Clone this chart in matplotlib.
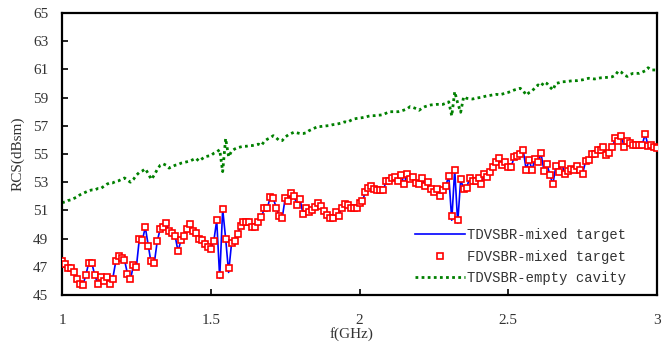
import matplotlib
matplotlib.use('Agg')
import matplotlib.pyplot as plt
import numpy as np

# frequency axis (GHz), 0.01 GHz step
freq = np.round(np.arange(1.0, 3.0001, 0.01), 2)

# FDVSBR - mixed target (red squares)
fd_mixed = [
    47.4, 47.2, 46.95, 46.9, 46.6, 46.1, 45.8, 45.7, 46.4, 47.3,
    47.3, 46.4, 45.8, 46.3, 46.0, 46.3, 45.8, 46.1, 47.4, 47.75,
    47.65, 47.5, 46.5, 46.1, 47.1, 47.0, 49.0, 48.9, 49.85, 48.5,
    47.4, 47.25, 48.8, 49.7, 49.85, 50.1, 49.55, 49.4, 49.2, 48.1,
    48.9, 49.2, 49.7, 50.05, 49.55, 49.4, 49.0, 48.9, 48.6, 48.4,
    48.25, 48.8, 50.3, 46.4, 51.1, 49.0, 46.9, 48.7, 48.8, 49.3,
    49.9, 50.15, 50.15, 50.2, 49.85, 49.8, 50.2, 50.5, 51.15, 51.15,
    51.95, 51.85, 51.2, 50.6, 50.45, 51.85, 51.65, 52.2, 52.0, 51.4,
    51.8, 50.75, 51.15, 50.9, 51.0, 51.25, 51.5, 51.3, 50.95, 50.7,
    50.45, 50.45, 50.9, 50.6, 51.2, 51.45, 51.35, 51.2, 51.2, 51.2,
    51.55, 51.7, 52.3, 52.6, 52.75, 52.5, 52.45, 52.45, 52.45, 53.1,
    53.1, 53.3, 53.4, 53.1, 53.5, 52.85, 53.6, 53.25, 53.35, 52.95,
    52.9, 53.3, 52.7, 53.0, 52.5, 52.3, 52.5, 52.0, 52.45, 52.75,
    53.45, 50.6, 53.9, 50.35, 53.2, 52.5, 52.6, 53.3, 53.1, 53.1,
    53.3, 52.85, 53.6, 53.4, 53.7, 54.1, 54.45, 54.75, 54.2, 54.4,
    54.1, 54.1, 54.8, 54.85, 55.0, 55.3, 53.9, 54.55, 53.9, 54.65,
    54.4, 55.05, 53.8, 54.3, 53.5, 52.85, 54.15, 53.7, 54.3, 53.6,
    53.8, 53.95, 53.9, 54.15, 53.9, 53.6, 54.5, 54.55, 55.0, 55.0,
    55.3, 55.3, 55.5, 54.9, 55.05, 55.5, 56.1, 55.95, 56.25, 55.5,
    55.95, 55.8, 55.65, 55.65, 55.65, 55.65, 56.4, 55.6, 55.65, 55.5,
    55.4,
]

# TDVSBR - mixed target (blue line)
td_mixed = [
    47.3, 47.2, 46.95, 46.85, 46.6, 46.1, 45.8, 45.7, 46.4, 47.3,
    47.3, 46.4, 45.8, 46.3, 46.0, 46.2, 45.7, 46.1, 47.3, 47.7,
    47.65, 47.5, 46.5, 46.1, 47.1, 47.0, 49.0, 48.9, 49.8, 48.5,
    47.2, 47.25, 48.8, 49.7, 49.85, 50.1, 49.55, 49.4, 49.2, 48.1,
    48.9, 49.2, 49.7, 50.05, 49.55, 49.4, 49.0, 48.9, 48.6, 48.4,
    48.25, 48.8, 50.3, 46.2, 51.1, 49.0, 46.6, 48.7, 48.8, 49.3,
    49.9, 50.15, 50.15, 50.2, 49.85, 49.8, 50.2, 50.5, 51.15, 51.15,
    51.95, 51.85, 51.2, 50.6, 50.45, 51.85, 51.65, 52.2, 52.0, 51.4,
    51.8, 50.75, 51.15, 50.9, 51.0, 51.25, 51.5, 51.3, 50.95, 50.7,
    50.45, 50.45, 50.9, 50.6, 51.2, 51.45, 51.35, 51.2, 51.2, 51.2,
    51.55, 51.7, 52.3, 52.6, 52.75, 52.5, 52.45, 52.45, 52.45, 53.1,
    53.1, 53.3, 53.4, 53.1, 53.5, 52.85, 53.6, 53.25, 53.35, 52.95,
    52.9, 53.3, 52.7, 53.0, 52.5, 52.3, 52.5, 52.0, 52.45, 52.75,
    53.45, 50.3, 53.9, 50.1, 53.2, 52.5, 52.6, 53.3, 53.1, 53.1,
    53.3, 52.85, 53.6, 53.4, 53.7, 54.1, 54.45, 54.75, 54.2, 54.4,
    54.1, 54.1, 54.8, 54.85, 55.0, 55.3, 53.9, 54.55, 53.9, 54.65,
    54.4, 55.05, 53.8, 54.3, 53.5, 52.85, 54.15, 53.7, 54.3, 53.6,
    53.8, 53.95, 53.9, 54.15, 53.9, 53.6, 54.5, 54.55, 55.0, 55.0,
    55.3, 55.3, 55.5, 54.9, 55.05, 55.5, 56.1, 55.95, 56.25, 55.5,
    55.95, 55.8, 55.65, 55.65, 55.65, 55.65, 56.4, 55.6, 55.65, 55.5,
    55.4,
]

# TDVSBR - empty cavity (green dotted)
td_empty = [
    51.55, 51.6, 51.7, 51.75, 51.85, 51.95, 52.1, 52.2, 52.3, 52.4,
    52.45, 52.45, 52.55, 52.55, 52.7, 52.85, 52.95, 52.95, 53.05, 53.1,
    53.2, 53.3, 53.15, 53.0, 53.2, 53.5, 53.7, 53.8, 53.95, 53.6,
    53.2, 53.5, 53.9, 54.2, 54.3, 54.2, 54.0, 54.1, 54.2, 54.25,
    54.35, 54.4, 54.45, 54.5, 54.6, 54.7, 54.5, 54.65, 54.8, 54.85,
    54.88, 55.05, 55.15, 55.3, 53.75, 56.1, 54.8, 55.2, 55.35, 55.45,
    55.5, 55.55, 55.55, 55.6, 55.6, 55.65, 55.7, 55.6, 55.9, 56.05,
    56.15, 56.3, 56.15, 55.95, 55.95, 56.2, 56.35, 56.45, 56.55, 56.5,
    56.45, 56.45, 56.5, 56.65, 56.75, 56.85, 56.95, 56.95, 56.98, 57.0,
    57.02, 57.08, 57.1, 57.15, 57.2, 57.28, 57.25, 57.38, 57.48, 57.52,
    57.55, 57.58, 57.62, 57.68, 57.72, 57.72, 57.75, 57.76, 57.8, 57.9,
    58.0, 58.0, 58.0, 58.0, 58.05, 58.12, 58.2, 58.36, 58.3, 58.22,
    58.1, 58.25, 58.36, 58.42, 58.48, 58.5, 58.52, 58.52, 58.52, 58.6,
    58.7, 57.7, 59.42, 58.6, 57.96, 59.06, 58.95, 58.92, 58.9, 58.95,
    58.99, 59.02, 59.08, 59.13, 59.16, 59.2, 59.23, 59.2, 59.25, 59.32,
    59.37, 59.45, 59.54, 59.6, 59.66, 59.5, 59.18, 59.35, 59.47, 59.7,
    59.9, 59.8, 60.1, 60.0, 59.75, 59.54, 60.01, 60.05, 60.12, 60.13,
    60.15, 60.18, 60.2, 60.2, 60.24, 60.26, 60.32, 60.37, 60.35, 60.32,
    60.36, 60.4, 60.41, 60.43, 60.45, 60.48, 60.6, 60.89, 60.8, 60.6,
    60.5, 60.65, 60.72, 60.72, 60.72, 60.8, 60.9, 61.12, 60.96, 60.96,
    60.95,
]

x_ticks = [1, 1.5, 2, 2.5, 3]
x_tick_labels = ['1', '1.5', '2', '2.5', '3']
y_ticks = list(range(45, 66, 2))

serif = 'Liberation Serif'
mono = 'Liberation Mono'

fig = plt.figure(figsize=(6.64, 3.42), dpi=100)
ax = fig.add_axes([0.0934, 0.1374, 0.8961, 0.8246])

ax.plot(freq, td_mixed, color='#0000ff', linewidth=1.2, label='TDVSBR-mixed target', zorder=2)
ax.plot(freq, fd_mixed, linestyle='none', marker='s', markersize=5,
        markerfacecolor='white', markeredgecolor='#ff0000', markeredgewidth=1.2,
        label='FDVSBR-mixed target', zorder=3)
ax.plot(freq, td_empty, color='#008000', linewidth=2, linestyle=(0, (1, 1.2)),
        label='TDVSBR-empty cavity', zorder=2)

ax.set_xlim(1, 3)
ax.set_ylim(45, 65)
ax.set_xticks(x_ticks)
ax.set_xticklabels(x_tick_labels)
ax.set_yticks(y_ticks)
ax.tick_params(direction='in', length=4, width=1.2, labelsize=11)
ax.tick_params(axis='x', pad=14)
ax.tick_params(axis='y', pad=10)
for lbl in ax.get_xticklabels() + ax.get_yticklabels():
    lbl.set_fontfamily(serif)
    lbl.set_color('#333333')
for sp in ax.spines.values():
    sp.set_linewidth(1.6)

ax.set_xlabel('f(GHz)', fontsize=11, family=serif, color='#333333')
ax.xaxis.set_label_coords(0.487, -0.112)
ax.set_ylabel('RCS(dBsm)', fontsize=11, family=serif, color='#333333', labelpad=6)

leg = ax.legend(loc='lower right', bbox_to_anchor=(0.965, 0.0), frameon=False,
                prop={'family': mono, 'size': 10}, handlelength=3.6,
                handletextpad=0.2, labelspacing=0.55, borderaxespad=0.3)
for t in leg.get_texts():
    t.set_color('#333333')

fig.savefig('out.png', dpi=100)
